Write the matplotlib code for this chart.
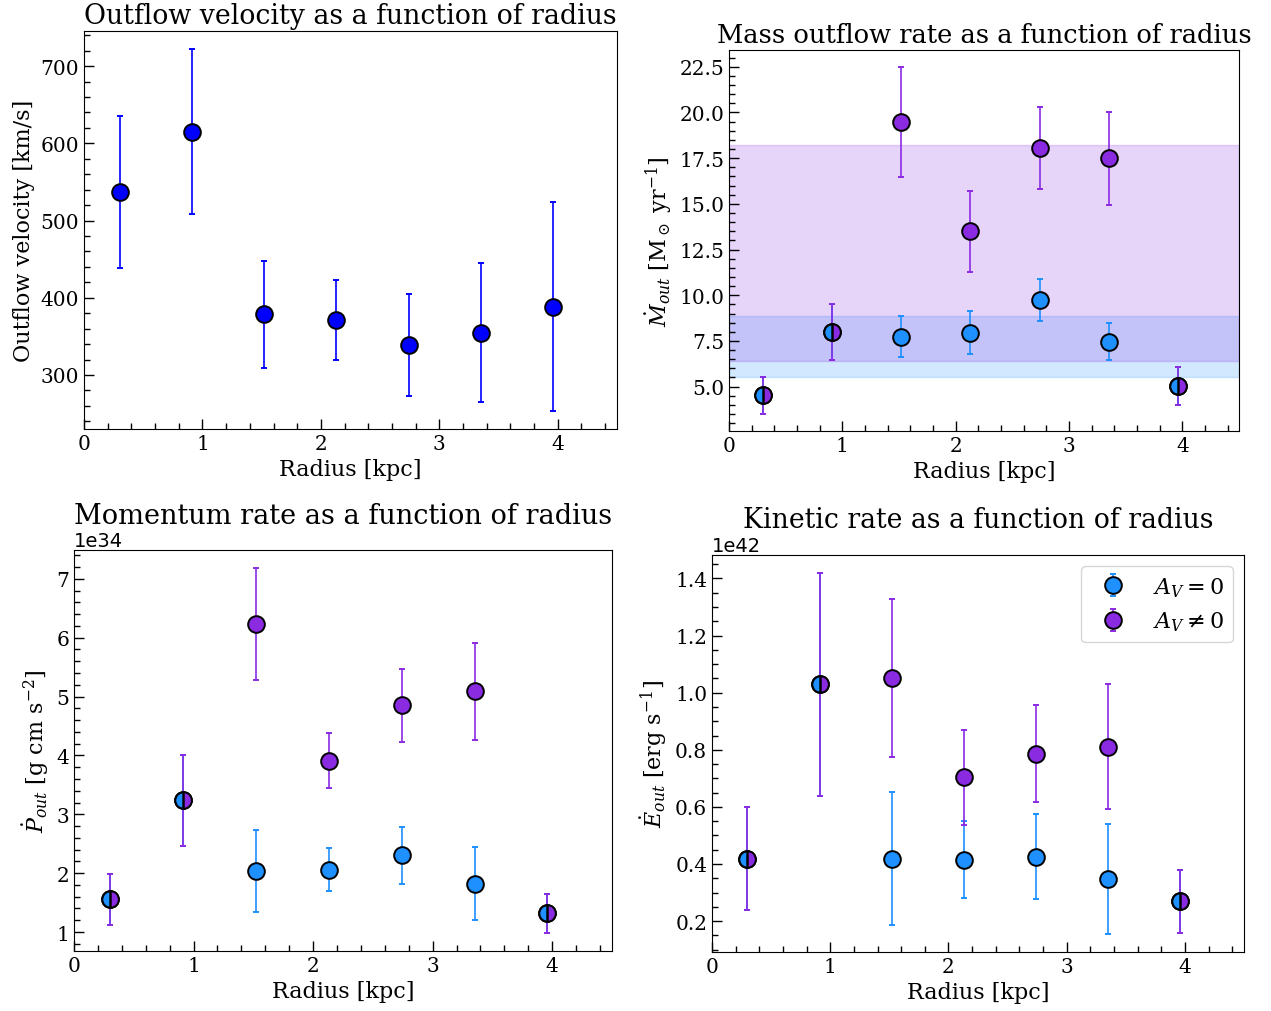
import numpy as np
import matplotlib
matplotlib.use("Agg")
import matplotlib.pyplot as plt
from matplotlib.ticker import AutoMinorLocator, MultipleLocator

# Radial bins [kpc]
radius = [0.30, 0.91, 1.52, 2.13, 2.74, 3.35, 3.96]

# Outflow velocity [km/s]
v_out = [537, 615, 378.5, 371.5, 339, 355, 388.5]
v_out_err = [99, 107, 69, 52, 66, 90, 135]

# Mass outflow rate [Msun/yr]
mdot_av0 = [4.52, 8.0, 7.74, 7.96, 9.73, 7.46, 5.02]
mdot_av0_err = [1.0, 1.52, 1.1, 1.17, 1.16, 1.0, 1.03]
mdot_av = [4.52, 8.0, 19.47, 13.49, 18.07, 17.5, 5.02]
mdot_av_err = [1.0, 1.52, 3.0, 2.2, 2.25, 2.54, 1.03]

# Momentum rate [1e34 g cm s^-2]
pdot_av0 = [1.555, 3.235, 2.036, 2.06, 2.30, 1.82, 1.317]
pdot_av0_err = [0.43, 0.77, 0.70, 0.37, 0.48, 0.62, 0.33]
pdot_av = [1.555, 3.235, 6.23, 3.91, 4.854, 5.09, 1.317]
pdot_av_err = [0.43, 0.77, 0.95, 0.47, 0.62, 0.82, 0.33]

# Kinetic rate [1e42 erg s^-1]
edot_av0 = [0.419, 1.029, 0.419, 0.415, 0.426, 0.347, 0.269]
edot_av0_err = [0.18, 0.39, 0.233, 0.135, 0.149, 0.192, 0.111]
edot_av = [0.419, 1.029, 1.050, 0.704, 0.787, 0.811, 0.269]
edot_av_err = [0.18, 0.39, 0.277, 0.167, 0.17, 0.218, 0.111]

BLUE = "dodgerblue"
PURPLE = "blueviolet"

plt.rcParams["font.family"] = "serif"
plt.rcParams["font.serif"] = ["DejaVu Serif"]
plt.rcParams["mathtext.fontset"] = "dejavuserif"

TICK_FS = 14.5
LABEL_FS = 16

fig = plt.figure(figsize=(12.71, 10.12), dpi=100)
W, H = 1271, 1012


def px_axes(x0, x1, y0, y1):
    return fig.add_axes([x0 / W, 1 - y1 / H, (x1 - x0) / W, (y1 - y0) / H])


style = dict(fmt="o", ms=12, mec="k", mew=1.4, elinewidth=1.2,
             capsize=2.5, capthick=1.2)


def decorate(ax, title, ylabel, title_fs):
    ax.set_xlim(0, 4.5)
    ax.xaxis.set_major_locator(MultipleLocator(1))
    ax.xaxis.set_minor_locator(AutoMinorLocator())
    ax.yaxis.set_minor_locator(AutoMinorLocator())
    ax.tick_params(which="both", direction="in", labelsize=TICK_FS)
    ax.tick_params(which="major", length=7, width=1)
    ax.tick_params(which="minor", length=4, width=1)
    ax.set_xlabel("Radius [kpc]", fontsize=LABEL_FS)
    ax.set_ylabel(ylabel, fontsize=LABEL_FS)
    ax.set_title(title, fontsize=title_fs)
    ax.yaxis.get_offset_text().set_family("DejaVu Sans")
    ax.yaxis.get_offset_text().set_fontsize(14)


def draw_pair(ax, y0, e0, y1, e1, scale=1.0):
    r = np.asarray(radius)
    y0 = np.asarray(y0) * scale
    e0 = np.asarray(e0) * scale
    y1 = np.asarray(y1) * scale
    e1 = np.asarray(e1) * scale
    shared = np.isclose(y0, y1)
    ax.errorbar(r, y0, yerr=e0, color=BLUE, ecolor=BLUE,
                label=r"$A_V = 0$", **style)
    ax.errorbar(r[~shared], y1[~shared], yerr=e1[~shared], color=PURPLE,
                ecolor=PURPLE, label=r"$A_V \neq 0$", **style)
    ax.errorbar(r[shared], y1[shared], yerr=e1[shared], color=PURPLE,
                ecolor=PURPLE, fillstyle="right", **style)


# Outflow velocity
ax1 = px_axes(84, 617, 32, 430)
ax1.errorbar(radius, v_out, yerr=v_out_err, color="blue", ecolor="blue", **style)
decorate(ax1, "Outflow velocity as a function of radius",
         "Outflow velocity [km/s]", 19.3)

# Mass outflow rate with mean +/- std bands
ax2 = px_axes(729, 1239, 51, 432)
for vals, col in ((mdot_av0, BLUE), (mdot_av, PURPLE)):
    m, s = np.mean(vals), np.std(vals)
    ax2.axhspan(m - s, m + s, color=col, alpha=0.2, zorder=0)
draw_pair(ax2, mdot_av0, mdot_av0_err, mdot_av, mdot_av_err)
decorate(ax2, "Mass outflow rate as a function of radius",
         r"$\dot{M}_{out}$ [M$_\odot$ yr$^{-1}$]", 18.5)

# Momentum rate
ax3 = px_axes(74, 612, 551, 952)
draw_pair(ax3, pdot_av0, pdot_av0_err, pdot_av, pdot_av_err, scale=1e34)
decorate(ax3, "Momentum rate as a function of radius",
         r"$\dot{P}_{out}$ [g cm s$^{-2}$]", 19.5)

# Kinetic rate
ax4 = px_axes(712, 1244, 556, 953)
draw_pair(ax4, edot_av0, edot_av0_err, edot_av, edot_av_err, scale=1e42)
decorate(ax4, "Kinetic rate as a function of radius",
         r"$\dot{E}_{out}$ [erg s$^{-1}$]", 19.2)
ax4.legend(loc="upper right", fontsize=16)

fig.savefig("out.png", dpi=100)
